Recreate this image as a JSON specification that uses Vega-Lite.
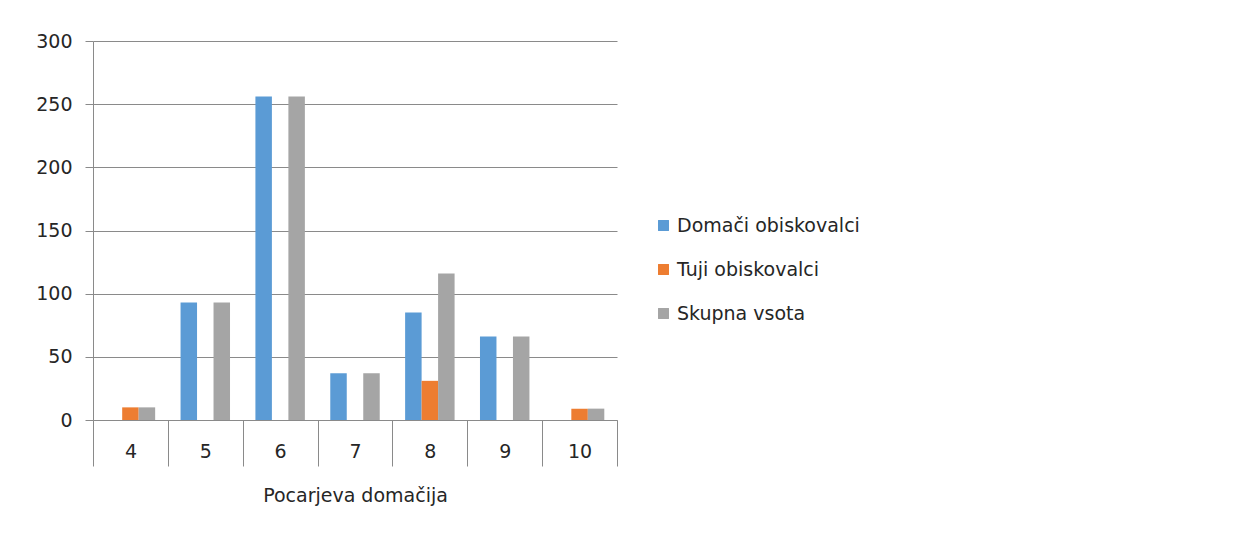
{
  "$schema": "https://vega.github.io/schema/vega-lite/v6.json",
  "autosize": {"type": "none"},
  "padding": {"left": 93, "top": 41, "right": 626, "bottom": 131},
  "width": 524,
  "height": 379,
  "background": "white",
  "config": {
    "font": "DejaVu Sans",
    "view": {"stroke": null},
    "axis": {"labelFont": "DejaVu Sans", "titleFont": "DejaVu Sans", "labelColor": "#262626", "titleColor": "#262626", "labelFontSize": 19, "titleFontSize": 19, "titleFontWeight": "normal"},
    "legend": {"labelFont": "DejaVu Sans", "labelFontSize": 19, "labelColor": "#262626", "labelLimit": 400}
  },
  "datasets": {
    "visitors": [
      {"c": "4", "s": "Tuji obiskovalci", "v": 10},
      {"c": "4", "s": "Skupna vsota", "v": 10},
      {"c": "5", "s": "Domači obiskovalci", "v": 93},
      {"c": "5", "s": "Skupna vsota", "v": 93},
      {"c": "6", "s": "Domači obiskovalci", "v": 256},
      {"c": "6", "s": "Skupna vsota", "v": 256},
      {"c": "7", "s": "Domači obiskovalci", "v": 37},
      {"c": "7", "s": "Skupna vsota", "v": 37},
      {"c": "8", "s": "Domači obiskovalci", "v": 85},
      {"c": "8", "s": "Tuji obiskovalci", "v": 31},
      {"c": "8", "s": "Skupna vsota", "v": 116},
      {"c": "9", "s": "Domači obiskovalci", "v": 66},
      {"c": "9", "s": "Skupna vsota", "v": 66},
      {"c": "10", "s": "Tuji obiskovalci", "v": 9},
      {"c": "10", "s": "Skupna vsota", "v": 9}
    ]
  },
  "layer": [
    {
      "data": {"name": "visitors"},
      "mark": {"type": "bar"},
      "encoding": {
        "x": {
          "field": "c", "type": "nominal",
          "sort": ["4", "5", "6", "7", "8", "9", "10"],
          "scale": {"domain": ["4", "5", "6", "7", "8", "9", "10"], "paddingInner": 0, "paddingOuter": 0},
          "axis": {
            "title": "Pocarjeva domačija",
            "labelAngle": 0,
            "tickBand": "extent",
            "tickSize": 46,
            "tickColor": "#8a8a8a",
            "domainColor": "#8a8a8a",
            "labelBaseline": "middle",
            "labelPadding": -15,
            "titlePadding": 20
          }
        },
        "xOffset": {
          "field": "s", "type": "nominal",
          "scale": {"domain": ["Domači obiskovalci", "Tuji obiskovalci", "Skupna vsota"], "paddingInner": 0, "paddingOuter": 0.77}
        },
        "y": {
          "field": "v", "type": "quantitative",
          "scale": {"domain": [0, 300], "nice": false},
          "axis": {
            "title": null,
            "values": [0, 50, 100, 150, 200, 250, 300],
            "tickSize": 8,
            "tickColor": "#8a8a8a",
            "domainColor": "#8a8a8a",
            "gridColor": "#8a8a8a",
            "labelPadding": 13
          }
        },
        "color": {
          "field": "s", "type": "nominal",
          "scale": {"domain": ["Domači obiskovalci", "Tuji obiskovalci", "Skupna vsota"], "range": ["#5B9BD5", "#ED7D31", "#A5A5A5"]},
          "legend": {
            "title": null,
            "orient": "none",
            "legendX": 561,
            "legendY": 175,
            "symbolType": "square",
            "symbolSize": 120,
            "symbolStrokeWidth": 0,
            "rowPadding": 24,
            "labelOffset": 4
          }
        }
      }
    },
    {
      "mark": {"type": "rule", "color": "#8a8a8a"},
      "encoding": {
        "x": {"datum": "4", "bandPosition": 0},
        "y": {"datum": 0},
        "y2": {"datum": -72}
      }
    },
    {
      "mark": {"type": "rule", "color": "#8a8a8a"},
      "encoding": {
        "x": {"datum": "10", "bandPosition": 1},
        "y": {"datum": 0},
        "y2": {"datum": -72}
      }
    }
  ]
}
